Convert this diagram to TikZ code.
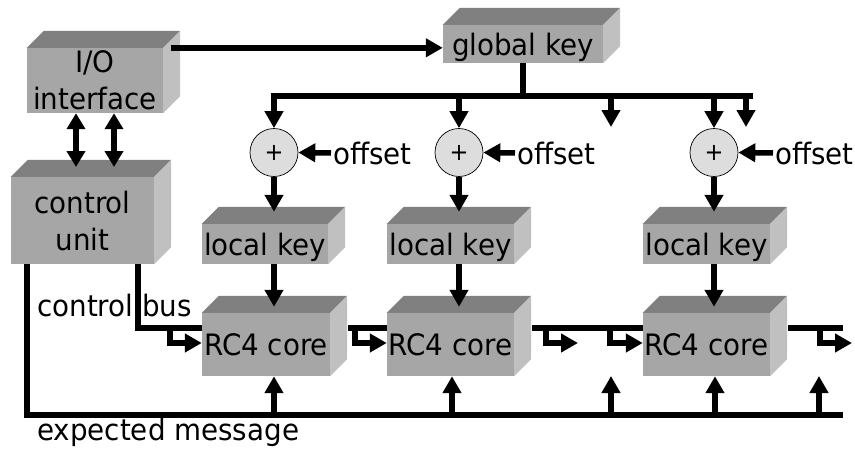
\documentclass[tikz,border=0pt]{standalone}
\usepackage{fontspec}
\setmainfont[FakeStretch=0.94]{DejaVu Sans}
\usetikzlibrary{arrows.meta,calc}

\definecolor{cubefront}{RGB}{166,166,166}
\definecolor{cubetopc}{RGB}{128,128,128}
\definecolor{cubesidec}{RGB}{192,192,192}
\definecolor{addfill}{RGB}{221,221,221}

% top and right faces of a block, 17pt deep
\newcommand\blockfaces[1]{%
  \fill[cubetopc] (#1.north west) -- ([shift={(17,-17)}]#1.north west)
    -- ([shift={(17,-17)}]#1.north east) -- (#1.north east) -- cycle;
  \fill[cubesidec] (#1.north east) -- ([shift={(17,-17)}]#1.north east)
    -- ([shift={(17,-17)}]#1.south east) -- (#1.south east) -- cycle;
}

\begin{document}
\begin{tikzpicture}[x=1pt,y=-1pt,
  txt/.style={font=\fontsize{29.5}{37}\selectfont, inner sep=0pt},
  cube/.style={txt, fill=cubefront, align=center},
  single/.style={cube, text height=22pt, text depth=0pt},
  adder/.style={circle, draw=black, line width=0.7pt, fill=addfill,
    minimum size=48pt, inner sep=0pt, font=\fontsize{24}{28}\selectfont},
  wire/.style={line width=5.5pt},
  arr/.style={wire, -{Triangle[length=17pt,width=18pt]}},
  darr/.style={wire, {Triangle[length=16pt,width=18pt]}-{Triangle[length=16pt,width=18pt]}},
]
\useasboundingbox (0,0) rectangle (855,453);

% blocks
\node[cube, minimum width=136pt, minimum height=65pt] (io) at (95,80.5) {I/O\\interface};
\node[cube, minimum width=143pt, minimum height=87pt] (cu) at (82.5,220.5) {control\\unit};
\node[single, minimum width=160pt, minimum height=38pt] (gk) at (523,44) {global key};
\node[single, minimum width=126pt, minimum height=40pt] (lk1) at (265,244) {local key};
\node[single, minimum width=127pt, minimum height=40pt] (lk2) at (450.5,244) {local key};
\node[single, minimum width=127pt, minimum height=40pt] (lk3) at (706.5,244) {local key};
\node[single, minimum width=128pt, minimum height=63pt] (rc1) at (266,344.5) {RC4 core};
\node[single, minimum width=127pt, minimum height=63pt] (rc2) at (450.5,344.5) {RC4 core};
\node[single, minimum width=127pt, minimum height=63pt] (rc3) at (706.5,344.5) {RC4 core};
\foreach \b in {io,cu,gk,lk1,lk2,lk3,rc1,rc2,rc3} {\blockfaces{\b}}

% adders and their offsets
\node[adder] (a1) at (274,152.5) {+};
\node[adder] (a2) at (459,152.5) {+};
\node[adder] (a3) at (714,152.5) {+};
\node[txt, anchor=west] (o1) at (333,153) {offset};
\node[txt, anchor=west] (o2) at (517,153) {offset};
\node[txt, anchor=west] (o3) at (775,153) {offset};
\draw[arr] ([xshift=-2pt]o1.west) -- (a1.east);
\draw[arr] ([xshift=-2pt]o2.west) -- (a2.east);
\draw[arr] ([xshift=-2pt]o3.west) -- (a3.east);

% I/O to global key, I/O to control unit
\draw[arr] ($(io.north east)+(8,0)$) -- (gk.west |- io.north east);
\coordinate (dl) at (76,167);
\coordinate (dr) at (114,167);
\draw[darr] (io.south -| dl) -- (dl);
\draw[darr] (io.south -| dr) -- (dr);

% global key distribution
\coordinate (kb) at (523,96);
\coordinate (kbend) at (753,96);
\coordinate (kd1) at (611,127);
\coordinate (kd2) at (746,127);
\draw[wire] (gk.south) -- (kb);
\draw[arr] (kbend) -- (a1.north |- kb) -- (a1.north);
\draw[arr] (a2.north |- kb) -- (a2.north);
\draw[arr] (a3.north |- kb) -- (a3.north);
\draw[arr] (kd1 |- kb) -- (kd1);
\draw[arr] (kd2 |- kb) -- (kd2);

% adders to local keys, local keys to cores
\draw[arr] (a1.south) -- ([xshift=9pt,yshift=12pt]lk1.north);
\draw[arr] (a2.south) -- ([xshift=8.5pt,yshift=12pt]lk2.north);
\draw[arr] (a3.south) -- ([xshift=7.5pt,yshift=12pt]lk3.north);
\draw[arr] ([xshift=9pt]lk1.south) -- ([xshift=8pt,yshift=6pt]rc1.north);
\draw[arr] ([xshift=8.5pt]lk2.south) -- ([xshift=8.5pt,yshift=6pt]rc2.north);
\draw[arr] ([xshift=7.5pt]lk3.south) -- ([xshift=7.5pt,yshift=6pt]rc3.north);

% control bus
\coordinate (cb1) at (138,328);
\coordinate (cbend) at (843,328);
\coordinate (cbt1) at (578,343);
\coordinate (cbt2) at (852,343);
\draw[wire] (cu.south -| cb1) -- (cb1) -- (rc1.west |- cb1);
\draw[wire] (348,328) -- (rc2.west |- cb1);
\draw[wire] (532,328) -- (rc3.west |- cb1);
\draw[wire] (788,328) -- (cbend);
\draw[arr] (170,328) -- (170,343) -- (rc1.west |- cbt1);
\draw[arr] (355,328) -- (355,343) -- (rc2.west |- cbt1);
\draw[arr] (546,328) -- (546,343) -- (cbt1);
\draw[arr] (610,328) -- (610,343) -- (rc3.west |- cbt1);
\draw[arr] (820,328) -- (820,343) -- (cbt2);
\node[txt, anchor=base west] (cbl) at (37,316) {control bus};

% expected message bus
\coordinate (em) at (27,415);
\coordinate (emend) at (843,415);
\coordinate (eu1) at (611,376);
\coordinate (eu2) at (819,376);
\draw[wire] (cu.south -| em) -- (em) -- (emend);
\draw[arr] ([xshift=8pt]rc1.south |- em) -- ([xshift=8pt]rc1.south);
\draw[arr] ([xshift=1.5pt]rc2.south |- em) -- ([xshift=1.5pt]rc2.south);
\draw[arr] ([xshift=8.5pt]rc3.south |- em) -- ([xshift=8.5pt]rc3.south);
\draw[arr] (eu1 |- em) -- (eu1);
\draw[arr] (eu2 |- em) -- (eu2);
\node[txt, anchor=base west] (eml) at (37,440) {expected message};
\end{tikzpicture}
\end{document}
